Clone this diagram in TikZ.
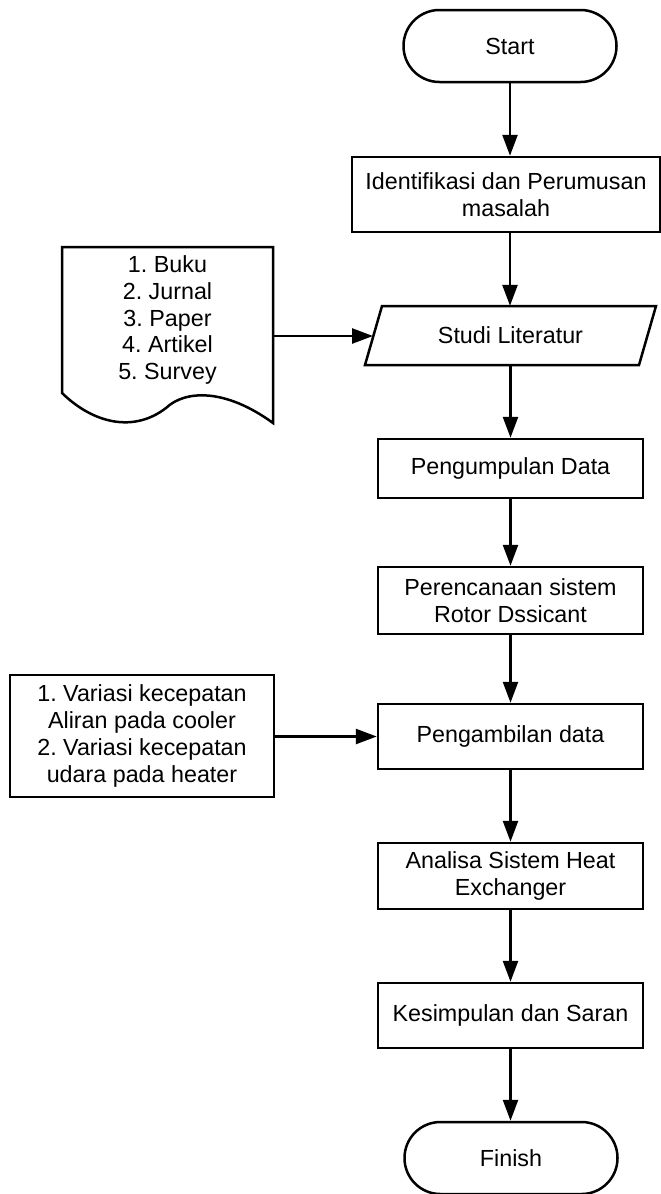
\documentclass[tikz,border=0pt]{standalone}
\usepackage{fontspec}
\setmainfont{Liberation Sans}
\frenchspacing
\usetikzlibrary{arrows.meta}
\begin{document}
\begin{tikzpicture}[x=1pt,y=-1pt,
  txt/.style={align=center, inner sep=0pt, font=\fontsize{23.3}{26.7}\selectfont},
  box/.style={txt, draw, line width=2.5pt},
  term/.style={box, rounded corners=35.9pt, minimum width=213pt, minimum height=72pt},
  shapeline/.style={line width=2.5pt, line join=miter},
  arr/.style={line width=2.6pt, -{Triangle[length=21pt,width=15pt]}}]
\useasboundingbox (0,0) rectangle (661,1194);
% terminators
\node[term] (start) at (510,46) {Start};
\node[term] (finish) at (511,1158) {Finish};
% process boxes
\node[box, minimum width=308pt, minimum height=75pt] (ident) at (506,194.5) {Identifikasi dan Perumusan\\masalah};
\node[box, minimum width=265pt, minimum height=59pt] (kumpul) at (510.5,468.5) {Pengumpulan Data};
\node[box, minimum width=265pt, minimum height=67pt] (rencana) at (510.5,600.5) {Perencanaan sistem\\Rotor Dssicant};
\node[box, minimum width=265pt, minimum height=65pt] (ambil) at (510.5,736.5) {Pengambilan data};
\node[box, minimum width=265pt, minimum height=66pt] (analisa) at (510.5,876) {Analisa Sistem Heat\\Exchanger};
\node[box, minimum width=265pt, minimum height=65pt] (simpul) at (510.5,1015.5) {Kesimpulan dan Saran};
\node[box, minimum width=264pt, minimum height=122pt] (var) at (142,736) {1. Variasi kecepatan\\Aliran pada cooler\\2. Variasi kecepatan\\udara pada heater};
% input/output parallelogram
\draw[shapeline] (382,306) -- (656,306) -- (639,365) -- (365,365) -- cycle;
\node[txt, minimum width=274pt, minimum height=59pt] (studi) at (510.5,335.5) {Studi Literatur};
\coordinate (studiL) at (373,336);
% document
\draw[shapeline] (62,393) -- (62,247) -- (273,247) -- (273,423)
  .. controls (225,388) and (185,390) .. (166,408)
  .. controls (135,432) and (95,425) .. (62,393) -- cycle;
\node[txt] (doc) at (167.5,320) {1. Buku\\2. Jurnal\\3. Paper\\4. Artikel\\5. Survey};
\coordinate (docE) at (273,336);
% connectors
\draw[arr] (start.south) -- (start.south |- ident.north);
\draw[arr] (start.south |- ident.south) -- (start.south |- studi.north);
\draw[arr] (studi.south) -- (kumpul.north);
\draw[arr] (kumpul.south) -- (rencana.north);
\draw[arr] (rencana.south) -- (ambil.north);
\draw[arr] (ambil.south) -- (analisa.north);
\draw[arr] (analisa.south) -- (simpul.north);
\draw[arr] (simpul.south) -- (simpul.south |- finish.north);
\draw[arr] (docE) -- (studiL);
\draw[arr] (var.east |- ambil.west) -- (ambil.west);
\end{tikzpicture}
\end{document}
